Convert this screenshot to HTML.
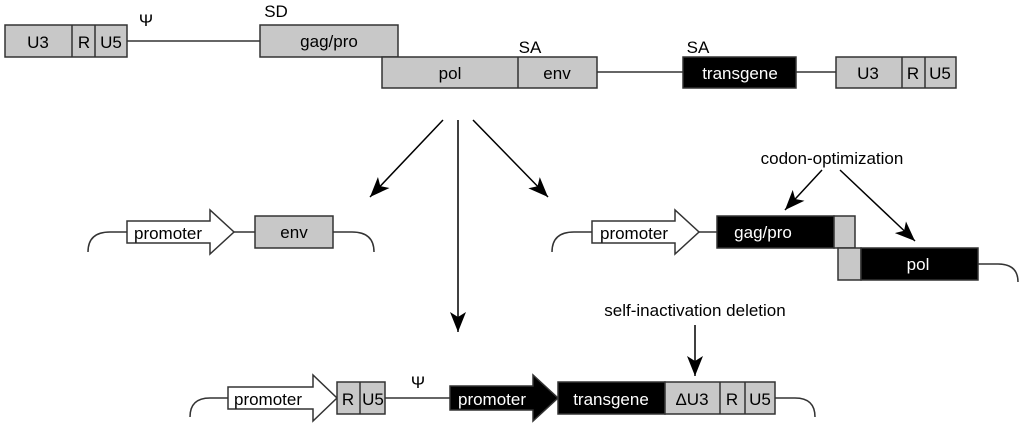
<!DOCTYPE html>
<html><head><style>
html,body{margin:0;padding:0;background:#fff;width:1024px;height:429px;overflow:hidden}
svg text{font-family:"Liberation Sans",Arial,sans-serif;font-size:17px}
</style></head><body>
<svg width="1024" height="429" viewBox="0 0 1024 429" xmlns="http://www.w3.org/2000/svg">
<defs><marker id="a" markerWidth="10" markerHeight="10" refX="9" refY="5" orient="auto" markerUnits="userSpaceOnUse" viewBox="0 0 10 10"><path d="M0,0 L10,5 L0,10 z" fill="#000"/></marker>
<marker id="b" markerWidth="22" markerHeight="16" refX="20" refY="8" orient="auto" markerUnits="userSpaceOnUse"><path d="M0,0 L20,8 L0,16 L5,8 z" fill="#000"/></marker></defs>
<g stroke="#333" stroke-width="1.5" fill="#c8c8c8">
<!-- top row -->
<line x1="127" y1="41" x2="260" y2="41"/>
<rect x="5" y="25" width="122" height="32"/><line x1="72" y1="25" x2="72" y2="57"/><line x1="95" y1="25" x2="95" y2="57"/>
<rect x="260" y="25" width="138" height="32"/>
<rect x="382" y="57" width="215" height="31"/><line x1="518" y1="57" x2="518" y2="88"/>
<line x1="597" y1="72" x2="683" y2="72"/><line x1="796" y1="72" x2="836" y2="72"/>
<rect x="683" y="57" width="113" height="31" fill="#000"/>
<rect x="836" y="57" width="120" height="31"/><line x1="902" y1="57" x2="902" y2="88"/><line x1="925" y1="57" x2="925" y2="88"/>
</g>
<g fill="#000" text-anchor="middle">
<text x="38" y="48">U3</text><text x="84" y="48">R</text><text x="111" y="48">U5</text>
<text x="146" y="26" font-family="Liberation Serif">Ψ</text>
<text x="276" y="17">SD</text><text x="329" y="47">gag/pro</text>
<text x="530" y="53">SA</text><text x="450" y="79">pol</text><text x="557" y="79">env</text>
<text x="698" y="53">SA</text><text x="740" y="79" fill="#fff">transgene</text>
<text x="868" y="79">U3</text><text x="913" y="79">R</text><text x="940" y="79">U5</text>
</g>
<!-- arrows -->
<g stroke="#000" stroke-width="1.5" fill="none">
<line x1="443" y1="120" x2="370" y2="197" marker-end="url(#b)"/>
<line x1="458" y1="120" x2="458" y2="332" marker-end="url(#b)"/>
<line x1="473" y1="120" x2="548" y2="197" marker-end="url(#b)"/>
<line x1="822" y1="170" x2="785" y2="210" marker-end="url(#b)"/>
<line x1="840" y1="170" x2="915" y2="241" marker-end="url(#b)"/>
<line x1="695" y1="325" x2="695" y2="376" marker-end="url(#b)"/>
</g>
<!-- left middle -->
<g stroke="#333" stroke-width="1.5" fill="none">
<path d="M88,252 Q88,232 110,232 L128,232"/>
<line x1="234" y1="232" x2="255" y2="232"/>
<path d="M333,232 L352,232 Q374,232 374,252"/>
<path d="M127,221 L210,221 L210,210 L234,232 L210,254 L210,243 L127,243 z" fill="#fff"/>
<rect x="255" y="216" width="78" height="32" fill="#c8c8c8"/>
</g>
<text x="168" y="239" text-anchor="middle">promoter</text>
<text x="294" y="238" text-anchor="middle">env</text>
<!-- right middle -->
<g stroke="#333" stroke-width="1.5" fill="none">
<path d="M552,252 Q552,232 574,232 L593,232"/>
<line x1="699" y1="232" x2="717" y2="232"/>
<path d="M978,264 L998,264 Q1018,264 1018,282"/>
<path d="M592,221 L675,221 L675,210 L699,232 L675,254 L675,243 L592,243 z" fill="#fff"/>
<rect x="717" y="216" width="117" height="32" fill="#000"/>
<rect x="834" y="216" width="21" height="32" fill="#c8c8c8"/>
<rect x="838" y="248" width="23" height="32" fill="#c8c8c8"/>
<rect x="861" y="248" width="117" height="32" fill="#000"/>
</g>
<text x="634" y="239" text-anchor="middle">promoter</text>
<text x="763" y="238" text-anchor="middle" fill="#fff">gag/pro</text>
<text x="918" y="270" text-anchor="middle" fill="#fff">pol</text>
<text x="832" y="164" text-anchor="middle">codon-optimization</text>
<text x="695" y="316" text-anchor="middle">self-inactivation deletion</text>
<!-- bottom -->
<g stroke="#333" stroke-width="1.5" fill="none">
<path d="M190,417 Q190,398 210,398 L229,398"/>
<line x1="385" y1="398" x2="450" y2="398"/>
<path d="M775,398 L795,398 Q815,398 815,417"/>
<path d="M228,387 L313,387 L313,375 L337,398 L313,421 L313,409 L228,409 z" fill="#fff"/>
<rect x="337" y="382" width="48" height="32" fill="#c8c8c8"/><line x1="360" y1="382" x2="360" y2="414"/>
<path d="M450,386 L533,386 L533,375 L558,398 L533,421 L533,410 L450,410 z" fill="#000"/>
<rect x="558" y="382" width="107" height="32" fill="#000"/>
<rect x="665" y="382" width="110" height="32" fill="#c8c8c8"/><line x1="720" y1="382" x2="720" y2="414"/><line x1="745" y1="382" x2="745" y2="414"/>
</g>
<g text-anchor="middle">
<text x="268" y="405">promoter</text>
<text x="348" y="405">R</text><text x="373" y="405">U5</text>
<text x="418" y="388" font-family="Liberation Serif">Ψ</text>
<text x="492" y="405" fill="#fff">promoter</text>
<text x="611" y="405" fill="#fff">transgene</text>
<text x="692" y="405">ΔU3</text><text x="732" y="405">R</text><text x="760" y="405">U5</text>
</g>
</svg>
</body></html>
